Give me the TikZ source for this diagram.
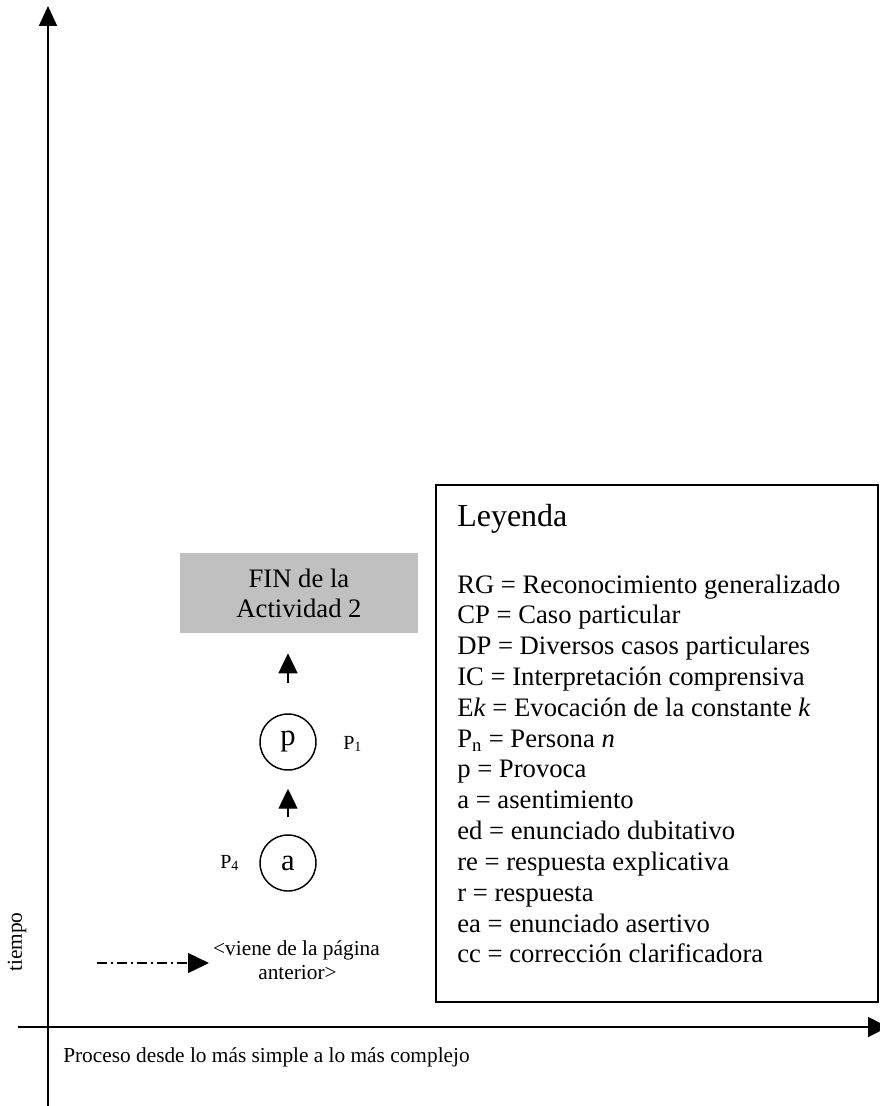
\documentclass[tikz,border=0pt]{standalone}
\usepackage{fontspec}
\setmainfont{Liberation Serif}
\usetikzlibrary{arrows.meta}
\definecolor{fingray}{HTML}{C0C0C0}
\begin{document}
\begin{tikzpicture}[x=0.75pt,y=-0.75pt,
  axis/.style={line width=1.5pt},
  flowarrow/.style={line width=1.1pt,-{Triangle[length=15pt,width=14.25pt]}},
  stage/.style={draw,circle,line width=1.1pt,minimum size=42pt,inner sep=0pt,
    font=\fontsize{23}{27}\selectfont},
  person/.style={anchor=base west,inner sep=0pt,font=\fontsize{15}{18}\selectfont},
  legitem/.style={anchor=base west,inner sep=0pt,font=\fontsize{20}{24}\selectfont},
  smalltext/.style={inner sep=0pt,font=\fontsize{16}{19}\selectfont}]
\useasboundingbox (0,0) rectangle (880,1106);

% axes
\coordinate (ybot) at (48,1106);
\coordinate (ytop) at (48,6);
\coordinate (xleft) at (18,1027);
\coordinate (xright) at (888,1027);
\draw[axis,-{Triangle[length=15pt,width=13.5pt]}] (ybot) -- (ytop);
\draw[axis,-{Triangle[length=15pt,width=15pt]}] (xleft) -- (xright);
\node[smalltext,rotate=90] (tiempo) at (17,942) {tiempo};
\node[smalltext,anchor=base west] (proceso) at (63,1062)
  {Proceso desde lo más simple a lo más complejo};

% end of the activity
\node[fill=fingray,minimum width=178.5pt,minimum height=60pt,inner sep=0pt,
  align=center,font=\fontsize{20}{22.5}\selectfont] (fin) at (299,593)
  {FIN de la\\Actividad 2};

% interaction sequence
\node[stage] (p) at (288,742) {p};
\node[stage] (a) at (288,863) {a};
\node[person] (p1) at (343,749) {P\textsubscript{1}};
\node[person] (p4) at (220,868) {P\textsubscript{4}};
\draw[flowarrow,shorten <=12.75pt,shorten >=13.5pt] (a.north) -- (p.south);
\draw[flowarrow,shorten <=22.5pt,shorten >=15pt] (p.north) -- (p.north |- fin.south);

% continuation from the previous page
\coordinate (vstart) at (97,963);
\coordinate (vend) at (209,963);
\draw[line width=1.1pt,dash pattern=on 7.5pt off 3pt on 1.5pt off 3pt,
  -{Triangle[length=15.75pt,width=15pt]}] (vstart) -- (vend);
\node[smalltext,anchor=base] (viene1) at (296.5,955) {<viene de la página};
\node[smalltext,anchor=base] (viene2) at (297.5,979) {anterior>};

% legend
\node[draw,line width=1.2pt,minimum width=331.5pt,minimum height=387.75pt,
  inner sep=0pt] (legend) at (657,743.5) {};
\node[anchor=base west,inner sep=0pt,font=\fontsize{24}{29}\selectfont]
  (leyenda) at (457,526) {Leyenda};
\foreach \txt [count=\i] in {
  {RG = Reconocimiento generalizado},
  {CP = Caso particular},
  {DP = Diversos casos particulares},
  {IC = Interpretación comprensiva},
  {E\textit{k} = Evocación de la constante \textit{k}},
  {P\textsubscript{n} = Persona \textit{n}},
  {p = Provoca},
  {a = asentimiento},
  {ed = enunciado dubitativo},
  {re = respuesta explicativa},
  {r = respuesta},
  {ea = enunciado asertivo},
  {cc = corrección clarificadora}}
  \node[legitem] (leg\i) at (457,{593+(\i-1)*30.83}) {\txt};
\end{tikzpicture}
\end{document}
